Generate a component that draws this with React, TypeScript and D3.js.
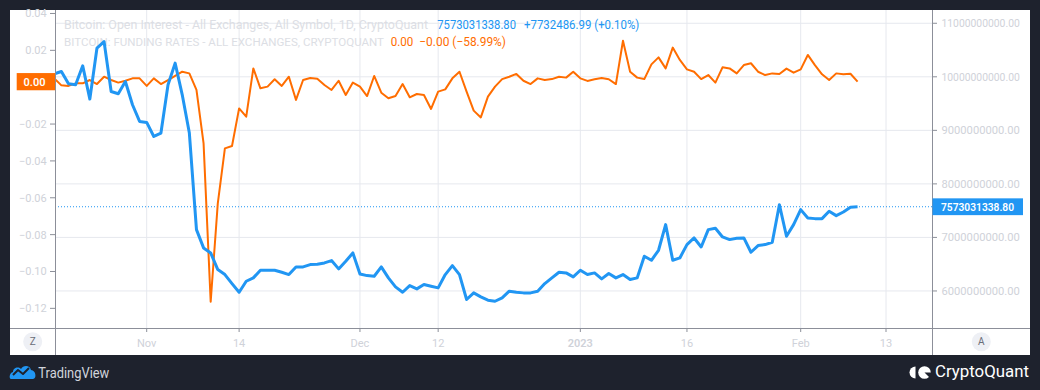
import React from "react";
import * as d3 from "d3";

// Canvas + layout
const W = 1040;
const H = 390;
const PANEL = { left: 10, top: 10, right: 1030, bottom: 355 };
const PLOT = { left: 55, top: 10, right: 932, bottom: 328 };

const BLUE = "#2196f3";
const ORANGE = "#ff6d00";
const DARK = "#1e222d";
const GRID = "#e6e8ee";
const AXIS = "#8c8f99";
const LABEL = "#cfd2d9";
const FONT = "Roboto, 'Noto Sans', sans-serif";

// Daily series, Oct 19 2022 .. Feb 9 2023
const FIRST_DAY = Date.UTC(2022, 9, 19);
const LAST_DAY = Date.UTC(2023, 1, 9);

// Open interest, billions USD
const OPEN_INTEREST = [
  10.056, 10.099, 9.869, 9.851, 10.205, 9.584, 10.535, 10.659, 9.726, 9.683, 9.913, 9.478, 9.166,
  9.148, 8.886, 8.949, 9.851, 10.255, 9.664, 8.949, 7.146, 6.804, 6.71, 6.399, 6.306, 6.138, 5.976,
  6.181, 6.244, 6.387, 6.387, 6.387, 6.35, 6.306, 6.449, 6.449, 6.493, 6.499, 6.524, 6.567, 6.412,
  6.555, 6.71,
  6.318, 6.287, 6.275, 6.449, 6.244, 6.076, 5.976, 6.101, 6.039, 6.119, 6.088, 6.057, 6.306, 6.474,
  6.306, 5.84, 5.964, 5.889, 5.827, 5.808, 5.871, 5.995, 5.976, 5.964, 5.964, 5.995, 6.138, 6.244,
  6.35, 6.337, 6.262,
  6.387, 6.306, 6.337, 6.225, 6.325, 6.244, 6.306, 6.213, 6.244, 6.648, 6.573, 6.76, 7.239, 6.573,
  6.617, 6.866, 6.99, 6.822, 7.146, 7.17, 7.009, 6.959, 6.984, 6.99, 6.723, 6.847, 6.866, 6.909,
  7.612, 7.021, 7.239,
  7.519, 7.363, 7.351, 7.351, 7.488, 7.407, 7.475, 7.565, 7.5730313388
];

// Funding rates
const FUNDING = [
  0.0048, 0.001, 0.0007, 0.0021, 0.0021, 0.0039, 0.0017, 0.0057, 0.0039, 0.0025, 0.0035, 0.0048, 0.0048,
  0.0007, 0.0048, 0.0017, 0.0039, 0.0061, 0.0084, 0.0075, -0.0015, -0.0305, -0.1164, -0.063, -0.0332,
  -0.0319, -0.0115, -0.016, 0.0102, -0.0006, 0.0003, 0.0043, 0.0007, 0.0057, -0.0069, 0.0039, 0.005,
  0.0046, 0.0012, -0.0015, 0.0035, -0.0042, 0.0025,
  0.0003, -0.0048, 0.0061, -0.003, -0.006, -0.0048, 0.0017, -0.0055, -0.0037, -0.0042, -0.0118,
  -0.0024, -0.0012, 0.0048, 0.0084, -0.0024, -0.0127, -0.0164, -0.0051, 0.0003, 0.0044, 0.0057,
  0.0072, 0.0035, 0.0017, 0.0048, 0.0039, 0.0044, 0.0057, 0.0052, 0.0084,
  0.0048, 0.0034, 0.0043, 0.005, 0.0043, 0.0017, 0.0252, 0.0084, 0.0052, 0.0044, 0.0124, 0.0162,
  0.0102, 0.0215, 0.0148, 0.0097, 0.0084, 0.0044, 0.0066, 0.0025, 0.0108, 0.0102, 0.0075, 0.012,
  0.013, 0.0084, 0.0066, 0.0075, 0.0072, 0.0101, 0.0079,
  0.0097, 0.0175, 0.012, 0.007, 0.0039, 0.0075, 0.007, 0.0073, 0.003
];

const TIME_TICKS: [number, string][] = [
  [Date.UTC(2022, 10, 1), "Nov"],
  [Date.UTC(2022, 10, 14), "14"],
  [Date.UTC(2022, 11, 1), "Dec"],
  [Date.UTC(2022, 11, 12), "12"],
  [Date.UTC(2023, 0, 1), "2023"],
  [Date.UTC(2023, 0, 16), "16"],
  [Date.UTC(2023, 1, 1), "Feb"],
  [Date.UTC(2023, 1, 13), "13"]
];
const OI_TICKS = [6, 7, 8, 9, 10, 11];
// 0.00 sits under the orange last-value badge, so only its tick mark shows
const FR_TICKS = [0.04, 0.02, 0, -0.02, -0.04, -0.06, -0.08, -0.1, -0.12];

const DAY_MS = 864e5;
const NOV1 = Date.UTC(2022, 10, 1);

const dates = d3.utcDay.range(new Date(FIRST_DAY), new Date(LAST_DAY + 1));

const x = d3.scaleUtc()
  .domain([new Date(NOV1 - 12.9 * DAY_MS), new Date(NOV1 + 110.47 * DAY_MS)])
  .range([PLOT.left, PLOT.right]);
const yOI = d3.scaleLinear().domain([5.308, 11.248]).range([PLOT.bottom, PLOT.top]);
const yFR = d3.scaleLinear().domain([-0.13066, 0.04189]).range([PLOT.bottom, PLOT.top]);

const oiLine = d3.line<number>()
  .x((_, i) => x(dates[i]))
  .y((d) => yOI(d));
const frLine = d3.line<number>()
  .x((_, i) => x(dates[i]))
  .y((d) => yFR(d));

const fmtFR = (v: number) => (v < 0 ? "\u2212" : "") + Math.abs(v).toFixed(2);
const fmtOI = (v: number) => (v * 1e9).toFixed(2);

export default function App() {
  const lastOI = OPEN_INTEREST[OPEN_INTEREST.length - 1];
  const lastFR = FUNDING[FUNDING.length - 1];
  const yLastOI = yOI(lastOI);
  const yLastFR = yFR(lastFR);

  return (
    <div style={{ position: "fixed", left: 0, top: 0, width: W, height: H, background: DARK }}>
      <svg width={W} height={H} style={{ display: "block", fontFamily: FONT }}>
        <defs>
          <clipPath id="plotClip">
            <rect x={PLOT.left} y={PLOT.top} width={PLOT.right - PLOT.left} height={PLOT.bottom - PLOT.top} />
          </clipPath>
        </defs>
        <rect x={0} y={0} width={W} height={H} fill={DARK} />
        <rect x={PANEL.left} y={PANEL.top} width={PANEL.right - PANEL.left} height={PANEL.bottom - PANEL.top} fill="#fff" />

        {/* grid */}
        {TIME_TICKS.map(([t]) => (
          <line key={"vg" + t} x1={x(new Date(t))} x2={x(new Date(t))} y1={PLOT.top} y2={PLOT.bottom} stroke={GRID} />
        ))}
        {OI_TICKS.map((v) => (
          <line key={"hg" + v} x1={PLOT.left} x2={PLOT.right} y1={yOI(v)} y2={yOI(v)} stroke={GRID} />
        ))}

        {/* legend */}
        <g fontSize={12}>
          <text x={64} y={29} fill="#dcdee4" textLength={364} lengthAdjust="spacingAndGlyphs">
            Bitcoin: Open Interest - All Exchanges, All Symbol, 1D, CryptoQuant
          </text>
          <text x={437.3} y={29} fill={BLUE} textLength={78.7} lengthAdjust="spacingAndGlyphs">{fmtOI(lastOI)}</text>
          <text x={524} y={29} fill={BLUE} textLength={115.3} lengthAdjust="spacingAndGlyphs">+7732486.99 (+0.10%)</text>
          <text x={64} y={46} fontSize={11} fill="#dcdee4" textLength={320} lengthAdjust="spacingAndGlyphs">
            BITCOIN: FUNDING RATES - ALL EXCHANGES, CRYPTOQUANT
          </text>
          <text x={390.7} y={46} fill={ORANGE} textLength={22.6} lengthAdjust="spacingAndGlyphs">0.00</text>
          <text x={419.3} y={46} fill={ORANGE} textLength={86.7} lengthAdjust="spacingAndGlyphs">{"\u22120.00 (\u221258.99%)"}</text>
        </g>

        {/* series */}
        <g clipPath="url(#plotClip)">
          <line x1={PLOT.left} x2={PLOT.right} y1={yLastOI} y2={yLastOI} stroke={BLUE} strokeWidth={1} strokeDasharray="1,2" />
          <path d={frLine(FUNDING) ?? ""} fill="none" stroke={ORANGE} strokeWidth={2} strokeLinejoin="round" />
          <path d={oiLine(OPEN_INTEREST) ?? ""} fill="none" stroke={BLUE} strokeWidth={3} strokeLinejoin="round" />
        </g>

        {/* axes lines */}
        <line x1={PLOT.left + 0.5} x2={PLOT.left + 0.5} y1={PANEL.top} y2={PANEL.bottom} stroke={AXIS} />
        <line x1={PLOT.right + 0.5} x2={PLOT.right + 0.5} y1={PANEL.top} y2={PANEL.bottom} stroke={AXIS} />
        <line x1={PANEL.left} x2={PANEL.right} y1={PLOT.bottom + 0.5} y2={PLOT.bottom + 0.5} stroke={AXIS} />

        {/* left axis */}
        <g fontSize={11} fill={LABEL} textAnchor="end">
          {FR_TICKS.map((v) => (
            <g key={"fr" + v}>
              <line x1={PLOT.left - 5} x2={PLOT.left} y1={yFR(v)} y2={yFR(v)} stroke={AXIS} />
              {v !== 0 && <text x={46.7} y={yFR(v)} dy="0.36em">{fmtFR(v)}</text>}
            </g>
          ))}
        </g>
        <rect x={16.7} y={yLastFR - 8.6} width={PLOT.left - 16.7} height={17.2} fill={ORANGE} />
        <text x={45.5} y={yLastFR} dy="0.36em" fontSize={11} fontWeight={600} fill="#fff" textAnchor="end">
          {Math.abs(lastFR).toFixed(2)}
        </text>

        {/* right axis */}
        <g fontSize={11} fill={LABEL}>
          {OI_TICKS.map((v) => (
            <g key={"oi" + v}>
              <line x1={PLOT.right} x2={PLOT.right + 5} y1={yOI(v)} y2={yOI(v)} stroke={AXIS} />
              <text x={941.5} y={yOI(v)} dy="0.36em" textLength={78.3} lengthAdjust="spacingAndGlyphs">{fmtOI(v)}</text>
            </g>
          ))}
        </g>
        <rect x={PLOT.right + 0.5} y={yLastOI - 8.4} width={90.5} height={16.8} fill={BLUE} />
        <text x={941} y={yLastOI} dy="0.36em" fontSize={11} fontWeight={600} fill="#fff" textLength={73} lengthAdjust="spacingAndGlyphs">
          {fmtOI(lastOI)}
        </text>

        {/* bottom axis */}
        <g fontSize={11} fill={LABEL} textAnchor="middle">
          {TIME_TICKS.map(([t, label]) => (
            <g key={"t" + t}>
              <line x1={x(new Date(t))} x2={x(new Date(t))} y1={PLOT.bottom} y2={PLOT.bottom + 4} stroke={AXIS} />
              <text x={x(new Date(t))} y={347} fontWeight={label === "2023" ? 600 : 400}>{label}</text>
            </g>
          ))}
        </g>

        {/* scale buttons */}
        <circle cx={32.7} cy={341.7} r={9.5} fill="#eef0f5" />
        <text x={32.7} y={341.7} dy="0.36em" fontSize={10} fill="#6a6d78" textAnchor="middle">Z</text>
        <circle cx={981.3} cy={341.7} r={9.5} fill="#eef0f5" />
        <text x={981.3} y={341.7} dy="0.36em" fontSize={10} fill="#6a6d78" textAnchor="middle">A</text>

        {/* TradingView mark */}
        <path
          d="M11,379 C9,379 9,373 13,372 C13,368 18,366 21,369 C23,365 30,365 31,370 C36,370 37,379 33,379 Z"
          fill={BLUE}
        />
        <path d="M13,375 L18,370 L23,374 L29,368" fill="none" stroke={DARK} strokeWidth={2} strokeLinejoin="round" />
        <text x={38.3} y={377.5} fontSize={14} fill="#d1d4dc" textLength={71} lengthAdjust="spacingAndGlyphs">TradingView</text>

        {/* CryptoQuant mark */}
        <path d="M915.5,366.5 A6,6 0 0 0 915.5,378.5 Z" fill="#fff" />
        <circle cx={924.5} cy={372.5} r={6.3} fill="#fff" />
        <path d="M924.5,372.5 L931.5,372.5 L931.5,379.5 Z" fill={DARK} />
        <text x={935} y={377} fontSize={16} fill="#fff" textLength={94} lengthAdjust="spacingAndGlyphs">CryptoQuant</text>
      </svg>
    </div>
  );
}
